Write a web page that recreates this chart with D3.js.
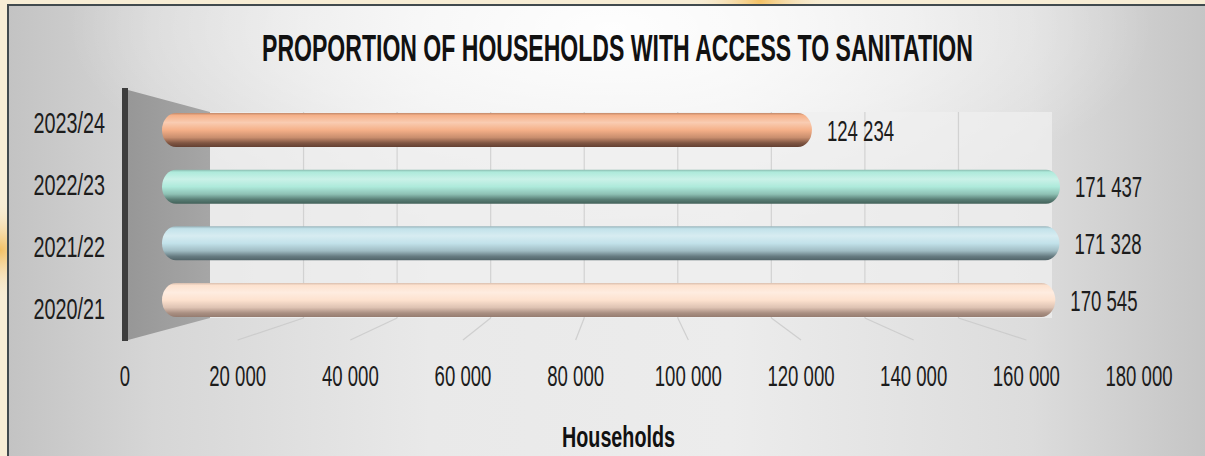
<!DOCTYPE html>
<html>
<head>
<meta charset="utf-8">
<script src="https://cdn.jsdelivr.net/npm/d3@7"></script>
<style>
  html, body { margin: 0; padding: 0; background: #f7edd5; }
  svg { display: block; }
  text { font-family: "Liberation Sans", Arial, sans-serif; fill: #1c1c1c; }
</style>
</head>
<body>
<svg id="chart" width="1205" height="456"></svg>
<script>
// ---- data ----
const title = "PROPORTION OF HOUSEHOLDS WITH ACCESS TO SANITATION";
const axisTitle = "Households";
const categories = ["2023/24", "2022/23", "2021/22", "2020/21"];
const values = [124234, 171437, 171328, 170545];
const tickValues = [0, 20000, 40000, 60000, 80000, 100000, 120000, 140000, 160000, 180000];
const barColors = ["#f5b088", "#aeeadb", "#c2e2ea", "#fde2cf"];
const barShadows = ["#634032", "#43625a", "#506368", "#957c70"];

// ---- setup ----
const svg = d3.select("#chart");
const W = 1205, H = 456;
const defs = svg.append("defs");
const fmt = d3.formatLocale({decimal: ".", thousands: " ", grouping: [3], currency: ["", ""]}).format(",d");

// 3D-ish projection scales
const xFront = d3.scaleLinear().domain([0, 180000]).range([125, 1139]);  // front floor edge / tick labels
const xBack  = d3.scaleLinear().domain([0, 180000]).range([210, 1052]);  // back wall
const xBar   = d3.scaleLinear().domain([0, 180000]).range([159, 1105]);  // bars (mid depth)
const yBar   = d3.scalePoint().domain(categories).range([130, 300]);
const yLab   = d3.scalePoint().domain(categories).range([122, 308]);
const backTop = 112, backBottom = 318, frontY = 340;
const barH = 34;

// ---- outer page background glows ----
const g1 = defs.append("radialGradient").attr("id", "glow1");
g1.append("stop").attr("offset", 0).attr("stop-color", "#f3bb55").attr("stop-opacity", 0.9);
g1.append("stop").attr("offset", 1).attr("stop-color", "#f7edd5").attr("stop-opacity", 0);
svg.append("rect").attr("width", W).attr("height", H).attr("fill", "#f7edd5");
svg.append("circle").attr("cx", 760).attr("cy", 0).attr("r", 70).attr("fill", "url(#glow1)");
svg.append("circle").attr("cx", 0).attr("cy", 250).attr("r", 50).attr("fill", "url(#glow1)");

// ---- chart frame background ----
const bgH = defs.append("linearGradient").attr("id", "bgH").attr("x1", 0).attr("x2", 1).attr("y1", 0).attr("y2", 0);
[[0, "#c3c3c3"], [0.12, "#d6d6d6"], [0.35, "#e9e9e9"], [0.6, "#ececec"], [0.85, "#dcdcdc"], [1, "#c4c4c4"]]
  .forEach(([o, c]) => bgH.append("stop").attr("offset", o).attr("stop-color", c));
const bgT = defs.append("radialGradient").attr("id", "bgT")
  .attr("cx", 0.5).attr("cy", 0.05).attr("r", 0.45);
bgT.append("stop").attr("offset", 0).attr("stop-color", "#ffffff").attr("stop-opacity", 0.95);
bgT.append("stop").attr("offset", 0.6).attr("stop-color", "#ffffff").attr("stop-opacity", 0.45);
bgT.append("stop").attr("offset", 1).attr("stop-color", "#ffffff").attr("stop-opacity", 0);

svg.append("rect").attr("x", 8).attr("y", 5).attr("width", W).attr("height", H)
  .attr("fill", "url(#bgH)");
svg.append("rect").attr("x", 8).attr("y", 5).attr("width", W).attr("height", H)
  .attr("fill", "url(#bgT)");
svg.append("path")
  .attr("d", `M8,${H + 2} L8,5 L${W + 2},5`)
  .attr("fill", "none").attr("stroke", "#414a4e").attr("stroke-width", 2);

// ---- back wall ----
svg.append("rect")
  .attr("x", xBack(0)).attr("y", backTop)
  .attr("width", xBack(180000) - xBack(0)).attr("height", backBottom - backTop)
  .attr("fill", "#efefef").attr("opacity", 0.75);
svg.append("g").selectAll("line")
  .data(tickValues.filter(v => v > 0 && v < 180000))
  .join("line")
  .attr("x1", d => xBack(d)).attr("x2", d => xBack(d))
  .attr("y1", backTop).attr("y2", backBottom)
  .attr("stroke", "#d2d2d2").attr("stroke-width", 1.2);

// ---- floor lines ----
svg.append("g").selectAll("line")
  .data(tickValues.filter(v => v > 0 && v < 180000))
  .join("line")
  .attr("x1", d => xBack(d)).attr("y1", backBottom)
  .attr("x2", d => xFront(d)).attr("y2", frontY)
  .attr("stroke", "#c9c9c9").attr("stroke-width", 1.2).attr("opacity", 0.8);

// ---- side wall ----
const sideG = defs.append("linearGradient").attr("id", "sideG").attr("x1", 0).attr("x2", 1);
sideG.append("stop").attr("offset", 0).attr("stop-color", "#979797");
sideG.append("stop").attr("offset", 1).attr("stop-color", "#a6a6a6");
svg.append("path")
  .attr("d", `M128,90 L${xBack(0)},${backTop} L${xBack(0)},${backBottom} L128,${frontY} Z`)
  .attr("fill", "url(#sideG)");
svg.append("rect").attr("x", 122).attr("y", 88).attr("width", 6).attr("height", frontY - 88 + 1)
  .attr("fill", "#3d3d3d");

// ---- bars (cylinders) ----
categories.forEach((c, i) => {
  const base = d3.color(barColors[i]);
  const dark = d3.color(barShadows[i]);
  const g = defs.append("linearGradient").attr("id", "bar" + i)
    .attr("x1", 0).attr("x2", 0).attr("y1", 0).attr("y2", 1);
  [[0, d3.interpolateRgb(base, dark)(0.35)],
   [0.07, base.formatHex()],
   [0.28, d3.interpolateRgb(base, "#ffffff")(0.35)],
   [0.5, base.formatHex()],
   [0.72, d3.interpolateRgb(base, dark)(0.3)],
   [0.88, d3.interpolateRgb(base, dark)(0.8)],
   [1, dark.formatHex()]]
    .forEach(([o, col]) => g.append("stop").attr("offset", o).attr("stop-color", col));
});

svg.append("g").selectAll("rect")
  .data(categories)
  .join("rect")
  .attr("x", xBar(0) + 3)
  .attr("y", d => yBar(d) - barH / 2)
  .attr("width", (d, i) => xBar(values[i]) - xBar(0) - 3)
  .attr("height", barH)
  .attr("rx", 14).attr("ry", barH / 2)
  .attr("fill", (d, i) => `url(#bar${i})`);

// ---- text helper: condensed text via horizontal scaling ----
function ctext(sel, x, y, str, opts) {
  const t = sel.append("text")
    .attr("text-anchor", opts.anchor || "middle")
    .attr("font-size", opts.size || 30)
    .attr("font-weight", opts.weight || "normal")
    .text(str);
  if (opts.dy) t.attr("dy", opts.dy);
  let sx = opts.sx || 0.63;
  if (opts.fitWidth) {
    const w = t.node().getComputedTextLength();
    if (w > 0) sx = opts.fitWidth / w;
  }
  t.attr("transform", `translate(${x},${y}) scale(${sx},1)`);
  return t;
}

// value labels
const vl = svg.append("g");
categories.forEach((c, i) => {
  ctext(vl, xBar(values[i]) + 15, yBar(c), fmt(values[i]), {anchor: "start", dy: "0.36em", sx: 0.62});
});

// category labels
const cl = svg.append("g");
categories.forEach(c => {
  ctext(cl, 105, yLab(c), c, {anchor: "end", dy: "0.36em", sx: 0.66});
});

// tick labels
const tl = svg.append("g");
tickValues.forEach(v => {
  ctext(tl, xFront(v), 386, fmt(v), {anchor: "middle", sx: 0.62});
});

// title
ctext(svg, 617.5, 61, title, {anchor: "middle", size: 36, weight: "bold", fitWidth: 711})
  .style("fill", "#111");

// axis title
ctext(svg, 618.5, 447, axisTitle, {anchor: "middle", size: 29, weight: "bold", fitWidth: 113})
  .style("fill", "#111");
</script>
</body>
</html>
